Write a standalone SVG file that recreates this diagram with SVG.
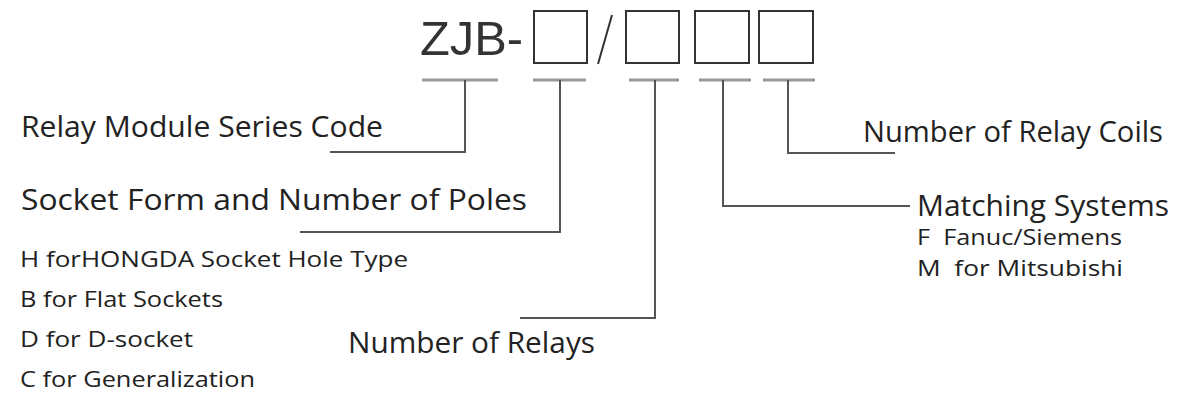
<svg xmlns="http://www.w3.org/2000/svg" width="1192" height="406" viewBox="0 0 1192 406">
<style>
.t{font-family:"Open Sans","Noto Sans",sans-serif;fill:#222}
.big{font-size:29px}
.sm{font-size:22.5px}
.box{fill:none;stroke:#333;stroke-width:2}
.ul{stroke:#999;stroke-width:3;fill:none}
.cn{stroke:#555;stroke-width:2;fill:none}
</style>
<rect width="1192" height="406" fill="#fff"/>
<g id="code">
<text x="420" y="55" font-family="Liberation Sans, Arial, sans-serif" font-size="48" fill="#333" textLength="103" lengthAdjust="spacingAndGlyphs">ZJB-</text>
<rect class="box" x="534" y="11" width="53" height="52"/>
<line x1="598" y1="64" x2="612" y2="15" stroke="#333" stroke-width="2"/>
<rect class="box" x="626" y="11" width="53" height="52"/>
<rect class="box" x="695" y="11" width="54" height="52"/>
<rect class="box" x="759" y="11" width="54" height="52"/>
</g>
<g id="connectors">
<line class="ul" x1="422" y1="80" x2="498" y2="80"/>
<line class="ul" x1="533" y1="80" x2="586" y2="80"/>
<line class="ul" x1="629" y1="80" x2="679" y2="80"/>
<line class="ul" x1="699" y1="80" x2="751" y2="80"/>
<line class="ul" x1="763" y1="80" x2="815" y2="80"/>
<polyline class="cn" points="465,80 465,152 330,152"/>
<polyline class="cn" points="560,80 560,232 300,232"/>
<polyline class="cn" points="655,80 655,318 520,318"/>
<polyline class="cn" points="723,80 723,206 910,206"/>
<polyline class="cn" points="788,80 788,153 895,153"/>
</g>
<g id="series">
<text class="t big" x="21" y="137" textLength="362" lengthAdjust="spacingAndGlyphs">Relay Module Series Code</text>
</g>
<g id="socket">
<text class="t big" x="21" y="210" textLength="506" lengthAdjust="spacingAndGlyphs">Socket Form and Number of Poles</text>
<text class="t sm" x="20" y="267" textLength="388" lengthAdjust="spacingAndGlyphs">H forHONGDA Socket Hole Type</text>
<text class="t sm" x="20" y="307" textLength="203" lengthAdjust="spacingAndGlyphs">B for Flat Sockets</text>
<text class="t sm" x="20" y="347" textLength="173" lengthAdjust="spacingAndGlyphs">D for D-socket</text>
<text class="t sm" x="20" y="387" textLength="235" lengthAdjust="spacingAndGlyphs">C for Generalization</text>
</g>
<g id="relays">
<text class="t big" x="348" y="353" textLength="247" lengthAdjust="spacingAndGlyphs">Number of Relays</text>
</g>
<g id="matching">
<text class="t big" x="917" y="216" textLength="252" lengthAdjust="spacingAndGlyphs">Matching Systems</text>
<text class="t sm" x="917" y="245" textLength="205" lengthAdjust="spacingAndGlyphs" xml:space="preserve">F  Fanuc/Siemens</text>
<text class="t sm" x="917" y="276" textLength="206" lengthAdjust="spacingAndGlyphs" xml:space="preserve">M  for Mitsubishi</text>
</g>
<g id="coils">
<text class="t big" x="863" y="142" textLength="300" lengthAdjust="spacingAndGlyphs">Number of Relay Coils</text>
</g>
</svg>
